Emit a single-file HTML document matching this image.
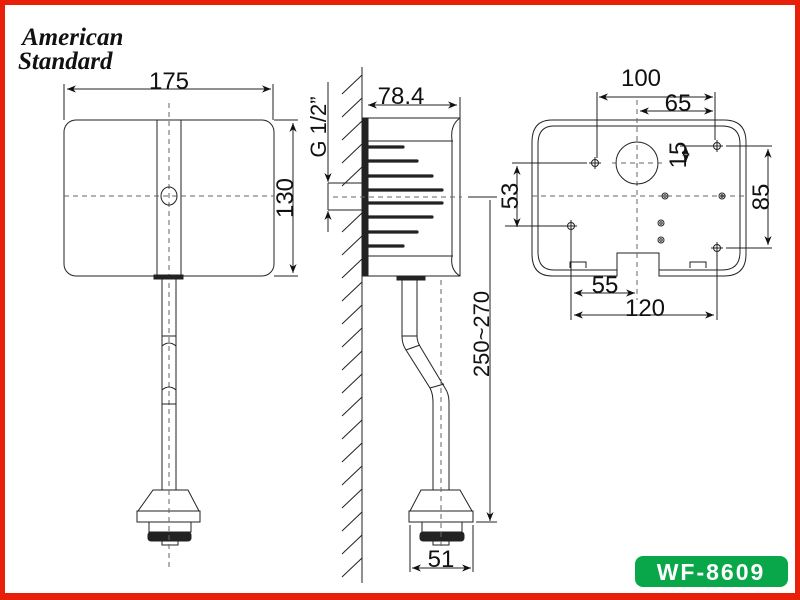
<!DOCTYPE html>
<html><head><meta charset="utf-8"><style>
html,body{margin:0;padding:0;background:#fff}
svg{display:block}
text{font-family:"Liberation Sans",Arial,sans-serif;fill:#111}
</style></head><body>
<svg width="800" height="600" viewBox="0 0 800 600" xmlns="http://www.w3.org/2000/svg">
<defs>
<marker id="a" viewBox="0 0 10 10" refX="10" refY="5" markerWidth="9" markerHeight="9" orient="auto-start-reverse" markerUnits="userSpaceOnUse"><path d="M0,1 L10,5 L0,9 L3,5 Z" fill="#111"/></marker>
</defs>
<rect x="0" y="0" width="800" height="600" fill="#fff"/>
<rect x="2.5" y="2.5" width="795" height="593" fill="none" stroke="#e8200a" stroke-width="5"/>
<rect x="0" y="593" width="800" height="7" fill="#e8200a"/>
<text x="22" y="45" font-style="italic" font-weight="bold" font-size="25" style="font-family:'Liberation Serif',serif">American</text>
<text x="18" y="69" font-style="italic" font-weight="bold" font-size="25" style="font-family:'Liberation Serif',serif">Standard</text>

<g stroke="#222" stroke-width="1" fill="none">
<rect x="64" y="120" width="210" height="156" rx="12" fill="#fff"/>
<line x1="157" y1="120" x2="157" y2="276"/><line x1="181" y1="120" x2="181" y2="276"/>
<line x1="169" y1="103" x2="169" y2="568" stroke-dasharray="5,4" stroke="#666"/>
<line x1="64" y1="196" x2="274" y2="196" stroke-dasharray="5,4" stroke="#666"/>
<ellipse cx="169" cy="196" rx="8" ry="9"/>
<rect x="154" y="275" width="29" height="4" fill="#222"/>
<line x1="162" y1="279" x2="162" y2="490"/><line x1="176" y1="279" x2="176" y2="490"/>
<line x1="162" y1="336" x2="176" y2="336"/><line x1="162" y1="404" x2="176" y2="404"/>
<path d="M162,346 Q169,340 176,346 M162,390 Q169,384 176,390"/>
<path d="M153,490 L188,490 L199,511 L138,511 Z" fill="#fff"/>
<rect x="137" y="511" width="63" height="11" fill="#fff"/>
<rect x="149" y="522" width="42" height="10" fill="#fff"/>
<rect x="148" y="532" width="43" height="9" rx="3" fill="#222"/>
<rect x="162" y="541" width="16" height="4"/>
<line x1="169" y1="490" x2="169" y2="568" stroke-dasharray="5,4" stroke="#666"/>
<line x1="64" y1="84" x2="64" y2="120"/><line x1="273" y1="84" x2="273" y2="120"/>
<line x1="67" y1="89" x2="271" y2="89" marker-start="url(#a)" marker-end="url(#a)"/>
<line x1="274" y1="120" x2="298" y2="120"/><line x1="274" y1="276" x2="298" y2="276"/>
<line x1="293" y1="123" x2="293" y2="273" marker-start="url(#a)" marker-end="url(#a)"/>
<line x1="362" y1="67" x2="362" y2="583"/>
</g>
<g stroke="#222" stroke-width="1">
<line x1="342" y1="94" x2="362" y2="75"/><line x1="342" y1="117" x2="362" y2="98"/><line x1="342" y1="140" x2="362" y2="121"/><line x1="342" y1="163" x2="362" y2="144"/><line x1="342" y1="186" x2="362" y2="167"/><line x1="342" y1="232" x2="362" y2="213"/><line x1="342" y1="255" x2="362" y2="236"/><line x1="342" y1="278" x2="362" y2="259"/><line x1="342" y1="301" x2="362" y2="282"/><line x1="342" y1="324" x2="362" y2="305"/><line x1="342" y1="347" x2="362" y2="328"/><line x1="342" y1="370" x2="362" y2="351"/><line x1="342" y1="393" x2="362" y2="374"/><line x1="342" y1="416" x2="362" y2="397"/><line x1="342" y1="439" x2="362" y2="420"/><line x1="342" y1="462" x2="362" y2="443"/><line x1="342" y1="485" x2="362" y2="466"/><line x1="342" y1="508" x2="362" y2="489"/><line x1="342" y1="531" x2="362" y2="512"/><line x1="342" y1="554" x2="362" y2="535"/><line x1="342" y1="577" x2="362" y2="558"/>
</g>
<g stroke="#222" stroke-width="1" fill="none">
<rect x="363" y="118" width="97" height="158" fill="#fff"/>
<rect x="363" y="118" width="5" height="158" fill="#222"/>
<line x1="368" y1="141" x2="453" y2="141"/><line x1="368" y1="256" x2="453" y2="256"/>
<path d="M460,118 Q450,125 452,140 L452,256 Q450,270 460,276"/>
</g>
<g stroke="#222" stroke-width="3.2" stroke-linecap="round">
<line x1="368" y1="147" x2="403" y2="147"/><line x1="368" y1="161" x2="417" y2="161"/><line x1="368" y1="176" x2="432" y2="176"/><line x1="368" y1="190" x2="442" y2="190"/><line x1="368" y1="203" x2="442" y2="203"/><line x1="368" y1="217" x2="432" y2="217"/><line x1="368" y1="232" x2="417" y2="232"/><line x1="368" y1="246" x2="403" y2="246"/>
</g>
<g stroke="#222" stroke-width="1" fill="none">
<line x1="333" y1="197" x2="462" y2="197" stroke-dasharray="5,4" stroke="#666"/>
<line x1="468" y1="197" x2="497" y2="197"/>
<line x1="328" y1="183" x2="362" y2="183"/><line x1="328" y1="210" x2="362" y2="210"/>
<line x1="328" y1="183" x2="328" y2="210"/>
<line x1="328" y1="82" x2="328" y2="182" marker-end="url(#a)"/>
<line x1="328" y1="232" x2="328" y2="211" marker-end="url(#a)"/>
<line x1="460" y1="97" x2="460" y2="118"/>
<line x1="368" y1="105" x2="457" y2="105" marker-start="url(#a)" marker-end="url(#a)"/>
<rect x="397" y="276" width="28" height="4" fill="#222"/>
<path d="M402,280 L402,336 Q402,344 406,350 L430,388 Q433,394 433,402 L433,490"/>
<path d="M417,280 L417,336 Q417,342 421,348 L445,388 Q449,394 449,402 L449,490"/>
<line x1="402" y1="336" x2="417" y2="336"/>
<line x1="406" y1="350" x2="420" y2="345"/><line x1="430" y1="388" x2="444" y2="384"/>
<path d="M421,490 L460,490 L472,511 L410,511 Z" fill="#fff"/>
<rect x="409" y="511" width="64" height="11" fill="#fff"/>
<rect x="422" y="522" width="40" height="10" fill="#fff"/>
<rect x="420" y="532" width="44" height="9" rx="3" fill="#222"/>
<rect x="433" y="541" width="16" height="4"/>
<line x1="441" y1="280" x2="441" y2="550" stroke-dasharray="5,4" stroke="#666"/>
<line x1="476" y1="522" x2="497" y2="522"/>
<line x1="490" y1="200" x2="490" y2="521" marker-end="url(#a)"/>
<line x1="517" y1="166" x2="517" y2="227" marker-start="url(#a)" marker-end="url(#a)"/>
<line x1="512" y1="163" x2="587" y2="163"/><line x1="505" y1="226" x2="565" y2="226"/>
<line x1="410" y1="525" x2="410" y2="572"/><line x1="473" y1="525" x2="473" y2="572"/>
<line x1="412" y1="568" x2="471" y2="568" marker-start="url(#a)" marker-end="url(#a)"/>

<path d="M552,120 L724,120 Q746,120 746,142 L746,254 Q746,276 724,276 L659,276 L659,253 L617,253 L617,276 L552,276 Q532,276 532,254 L532,142 Q532,120 552,120 Z"/>
<path d="M659,270 L722,270 Q740,270 740,252 L740,144 Q740,126 722,126 L554,126 Q538,126 538,144 L538,252 Q538,270 554,270 L617,270"/>
<path d="M570,268 L570,262 L586,262 L586,268 M690,268 L690,262 L706,262 L706,268"/>
<line x1="637" y1="100" x2="637" y2="300" stroke-dasharray="5,4" stroke="#666"/>
<line x1="532" y1="196" x2="748" y2="196" stroke-dasharray="5,4" stroke="#666"/>
<circle cx="637" cy="163" r="21"/>
<line x1="612" y1="163" x2="665" y2="163" stroke-dasharray="5,4" stroke="#666"/>
<circle cx="595" cy="163" r="3.5"/><line x1="589" y1="163" x2="601" y2="163"/><line x1="595" y1="157" x2="595" y2="169"/>
<circle cx="571" cy="226" r="3.5"/><line x1="565" y1="226" x2="577" y2="226"/><line x1="571" y1="220" x2="571" y2="232"/>
<circle cx="717" cy="146" r="3.5"/><line x1="711" y1="146" x2="723" y2="146"/><line x1="717" y1="140" x2="717" y2="152"/>
<circle cx="717" cy="248" r="3.5"/><line x1="711" y1="248" x2="723" y2="248"/><line x1="717" y1="242" x2="717" y2="254"/>
<circle cx="665" cy="196" r="3"/><circle cx="665" cy="196" r="1.2"/>
<circle cx="722" cy="196" r="3"/><circle cx="722" cy="196" r="1.2"/>
<circle cx="661" cy="223" r="3"/><circle cx="661" cy="223" r="1.2"/>
<circle cx="661" cy="240" r="3"/><circle cx="661" cy="240" r="1.2"/>
<line x1="597" y1="92" x2="597" y2="158"/><line x1="715" y1="92" x2="715" y2="140"/>
<line x1="599" y1="97" x2="713" y2="97" marker-start="url(#a)" marker-end="url(#a)"/>
<line x1="640" y1="111" x2="713" y2="111" marker-start="url(#a)" marker-end="url(#a)"/>
<line x1="686" y1="147" x2="686" y2="162" marker-start="url(#a)" marker-end="url(#a)"/>
<line x1="680" y1="146" x2="711" y2="146"/>
<line x1="726" y1="146" x2="772" y2="146"/><line x1="726" y1="248" x2="772" y2="248"/>
<line x1="768" y1="149" x2="768" y2="245" marker-start="url(#a)" marker-end="url(#a)"/>
<line x1="571" y1="232" x2="571" y2="320"/><line x1="717" y1="254" x2="717" y2="320"/>
<line x1="574" y1="293" x2="635" y2="293" marker-start="url(#a)" marker-end="url(#a)"/>
<line x1="574" y1="315" x2="714" y2="315" marker-start="url(#a)" marker-end="url(#a)"/>
</g>

<g font-size="24">
<text x="169" y="89" text-anchor="middle">175</text>
<text transform="translate(293,198) rotate(-90)" text-anchor="middle">130</text>
<text x="401" y="104" text-anchor="middle">78.4</text>
<text transform="translate(326,127) rotate(-90)" text-anchor="middle" font-size="22">G 1/2”</text>
<text transform="translate(489,334) rotate(-90)" text-anchor="middle" font-size="22">250~270</text>
<text transform="translate(518,196) rotate(-90)" text-anchor="middle">53</text>
<text x="441" y="567" text-anchor="middle">51</text>
<text x="641" y="86" text-anchor="middle">100</text>
<text x="678" y="111" text-anchor="middle">65</text>
<text transform="translate(686,155) rotate(-90)" text-anchor="middle">15</text>
<text transform="translate(769,197) rotate(-90)" text-anchor="middle">85</text>
<text x="605" y="293" text-anchor="middle">55</text>
<text x="645" y="316" text-anchor="middle">120</text>
</g>
<rect x="635" y="556" width="153" height="31" rx="8" fill="#0aa64a"/>
<text x="711" y="580" text-anchor="middle" font-size="23" font-weight="bold" letter-spacing="2" style="fill:#fff">WF-8609</text>
</svg>
</body></html>
